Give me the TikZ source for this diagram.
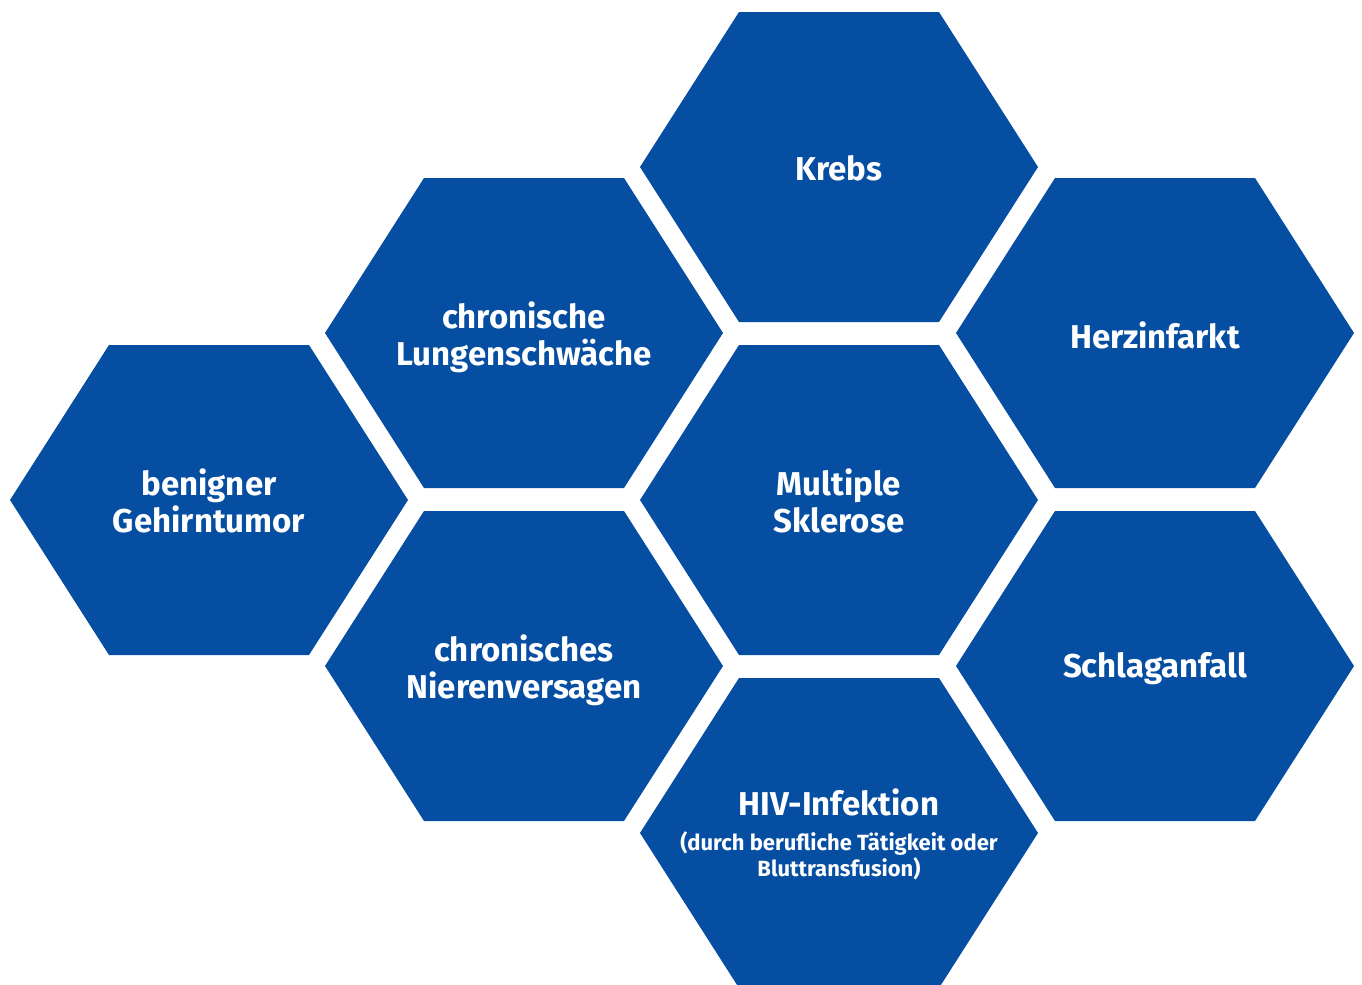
\documentclass[tikz,border=0pt]{standalone}
\usepackage{fontspec}
\setmainfont{Fira Sans}
\definecolor{hexblue}{RGB}{5,78,162}
\tikzset{
  hexlabel/.style={text=white,font=\bfseries\fontsize{16.5}{18.3}\selectfont,align=center,inner sep=0pt},
  hexfill/.style={fill=hexblue},
}
\newcommand{\hexcell}[5]{%
  \fill[hexfill] (#2-199,#3) -- (#2-100,#3-155) -- (#2+100,#3-155) -- (#2+199,#3) -- (#2+100,#3+155) -- (#2-100,#3+155) -- cycle;
  \node[hexlabel] (#1) at (#2,#4) {#5};
}
\begin{document}
\begin{tikzpicture}[x=0.5pt,y=-0.5pt]
\useasboundingbox (0,0) rectangle (1362,985);
\hexcell{krebs}{839}{167}{168}{Krebs}
\hexcell{lunge}{524}{333}{337}{chronische\\Lungenschwäche}
\hexcell{herz}{1155}{333}{335}{Herzinfarkt}
\hexcell{tumor}{209}{500}{501}{benigner\\Gehirntumor}
\hexcell{ms}{839}{500}{501}{Multiple\\Sklerose}
\hexcell{niere}{524}{666}{670}{chronisches\\Nierenversagen}
\hexcell{schlag}{1155}{666}{669}{Schlaganfall}
\hexcell{hivhex}{839}{833}{833}{}
\node[hexlabel,font=\bfseries\fontsize{16.5}{17.5}\selectfont] (hiv) at (839,836) {HIV-Infektion\\{\fontsize{11}{11}\selectfont\begin{tabular}[t]{@{}c@{}}(durch berufliche Tätigkeit oder\\Bluttransfusion)\end{tabular}}};
\end{tikzpicture}
\end{document}
